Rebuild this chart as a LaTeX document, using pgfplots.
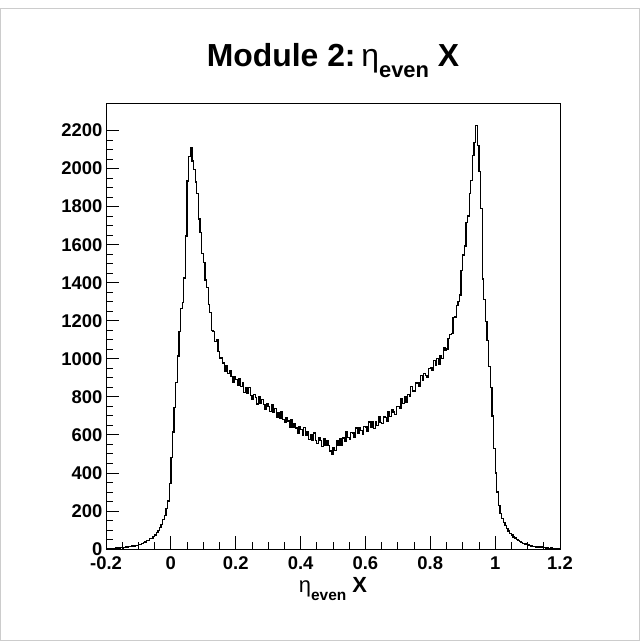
\documentclass[border=0pt]{standalone}
\usepackage{fontspec}
\setmainfont{Liberation Sans}
\usepackage{pgfplots}
\pgfplotsset{compat=1.18}
\usepackage{pgfplotstable}

\pgfplotstableread{
x y
-0.200 2
-0.195 1
-0.190 3
-0.185 1
-0.180 4
-0.175 3
-0.170 5
-0.165 3
-0.160 6
-0.155 8
-0.150 6
-0.145 9
-0.140 11
-0.135 10
-0.130 13
-0.125 12
-0.120 16
-0.115 15
-0.110 19
-0.105 20
-0.100 25
-0.095 24
-0.090 30
-0.085 34
-0.080 36
-0.075 43
-0.070 46
-0.065 54
-0.060 57
-0.055 67
-0.050 73
-0.045 86
-0.040 97
-0.035 114
-0.030 129
-0.025 155
-0.020 176
-0.015 214
-0.010 252
-0.005 345
0.000 480
0.005 615
0.010 745
0.015 875
0.020 1015
0.025 1145
0.030 1265
0.035 1295
0.040 1425
0.045 1645
0.050 1935
0.055 2065
0.060 2110
0.065 2040
0.070 1995
0.075 1930
0.080 1870
0.085 1735
0.090 1665
0.095 1555
0.100 1505
0.105 1415
0.110 1375
0.115 1285
0.120 1243
0.125 1148
0.130 1144
0.135 1091
0.140 1102
0.145 1037
0.150 1001
0.155 1007
0.160 978
0.165 932
0.170 966
0.175 921
0.180 936
0.185 907
0.190 876
0.195 906
0.200 891
0.205 861
0.210 895
0.215 853
0.220 873
0.225 824
0.230 847
0.235 816
0.240 849
0.245 807
0.250 789
0.255 813
0.260 798
0.265 762
0.270 803
0.275 765
0.280 786
0.285 761
0.290 734
0.295 765
0.300 751
0.305 722
0.310 758
0.315 717
0.320 738
0.325 692
0.330 717
0.335 687
0.340 722
0.345 681
0.350 664
0.355 688
0.360 673
0.365 638
0.370 679
0.375 640
0.380 661
0.385 636
0.390 609
0.395 641
0.400 628
0.405 600
0.410 637
0.415 597
0.420 618
0.425 574
0.430 601
0.435 573
0.440 610
0.445 571
0.450 556
0.455 583
0.460 571
0.465 538
0.470 581
0.475 545
0.480 568
0.485 543
0.490 516
0.495 495
0.500 531
0.505 518
0.510 570
0.515 543
0.520 578
0.525 546
0.530 584
0.535 568
0.540 615
0.545 585
0.550 579
0.555 614
0.560 610
0.565 585
0.570 636
0.575 607
0.580 638
0.585 622
0.590 604
0.595 645
0.600 641
0.605 621
0.610 667
0.615 637
0.620 668
0.625 632
0.630 667
0.635 648
0.640 694
0.645 664
0.650 659
0.655 696
0.660 693
0.665 670
0.670 723
0.675 698
0.680 732
0.685 720
0.690 706
0.695 751
0.700 751
0.705 738
0.710 790
0.715 766
0.720 803
0.725 773
0.730 814
0.735 802
0.740 855
0.745 831
0.750 831
0.755 872
0.760 873
0.765 854
0.770 911
0.775 888
0.780 924
0.785 913
0.790 901
0.795 949
0.800 951
0.805 938
0.810 990
0.815 966
0.820 1003
0.825 973
0.830 1014
0.835 1003
0.840 1057
0.845 1042
0.850 1051
0.855 1107
0.860 1128
0.865 1134
0.870 1216
0.875 1219
0.880 1281
0.885 1302
0.890 1336
0.895 1464
0.900 1546
0.905 1593
0.910 1715
0.915 1751
0.920 1868
0.925 1938
0.930 2069
0.935 2136
0.940 2225
0.945 2120
0.950 1985
0.955 1790
0.960 1420
0.965 1310
0.970 1195
0.975 1095
0.980 960
0.985 850
0.990 700
0.995 530
1.000 400
1.005 300
1.010 230
1.015 185
1.020 160
1.025 138
1.030 122
1.035 106
1.040 94
1.045 81
1.050 73
1.055 63
1.060 58
1.065 49
1.070 45
1.075 38
1.080 35
1.085 29
1.090 27
1.095 22
1.100 21
1.105 17
1.110 16
1.115 13
1.120 14
1.125 11
1.130 10
1.135 9
1.140 10
1.145 7
1.150 8
1.155 6
1.160 6
1.165 4
1.170 5
1.175 3
1.180 4
1.185 2
1.190 3
1.195 2
1.200 2
}\hist

\begin{document}
\begin{tikzpicture}[x=1bp,y=1bp]
\path[use as bounding box] (0,0) rectangle (640,641);
\draw[gray!40, line width=0.8bp] (0.5,0.5) rectangle (639.5,633);
\begin{axis}[
  at={(106bp,92bp)}, anchor=south west,
  scale only axis, width=454bp, height=446bp,
  xmin=-0.2, xmax=1.2, ymin=0, ymax=2345,
  xtick={-0.2,0,0.2,0.4,0.6,0.8,1,1.2},
  xticklabels={-0.2,0,0.2,0.4,0.6,0.8,1,1.2},
  ytick={0,200,400,600,800,1000,1200,1400,1600,1800,2000,2200},
  yticklabels={0,200,400,600,800,1000,1200,1400,1600,1800,2000,2200},
  minor x tick num=3, minor y tick num=3,
  tick align=inside, xtick pos=bottom, ytick pos=left,
  major tick length=13bp, minor tick length=6.5bp,
  every tick/.style={black, line width=0.8bp},
  axis line style={black, line width=0.8bp},
  scaled ticks=false,
  ticklabel style={font=\fontsize{18.5}{18.5}\selectfont\bfseries, inner sep=0pt},
  yticklabel style={xshift=-3.5bp},
  xticklabel style={yshift=-7bp, text height=13.5bp, text depth=0bp},
  clip=true,
]
\addplot[const plot, black, line width=1.3bp] table {\hist};
\end{axis}
\node[anchor=base] at (333,574) {\fontsize{32}{32}\selectfont\bfseries Module 2:\hspace{0.18em}{\mdseries η}\raisebox{-0.32em}{\fontsize{22}{22}\selectfont\bfseries even} X};
\node[anchor=base] at (333,48) {\fontsize{22}{22}\selectfont\bfseries {\mdseries η}\raisebox{-0.32em}{\fontsize{15.5}{15.5}\selectfont\bfseries even} X};
\end{tikzpicture}
\end{document}
